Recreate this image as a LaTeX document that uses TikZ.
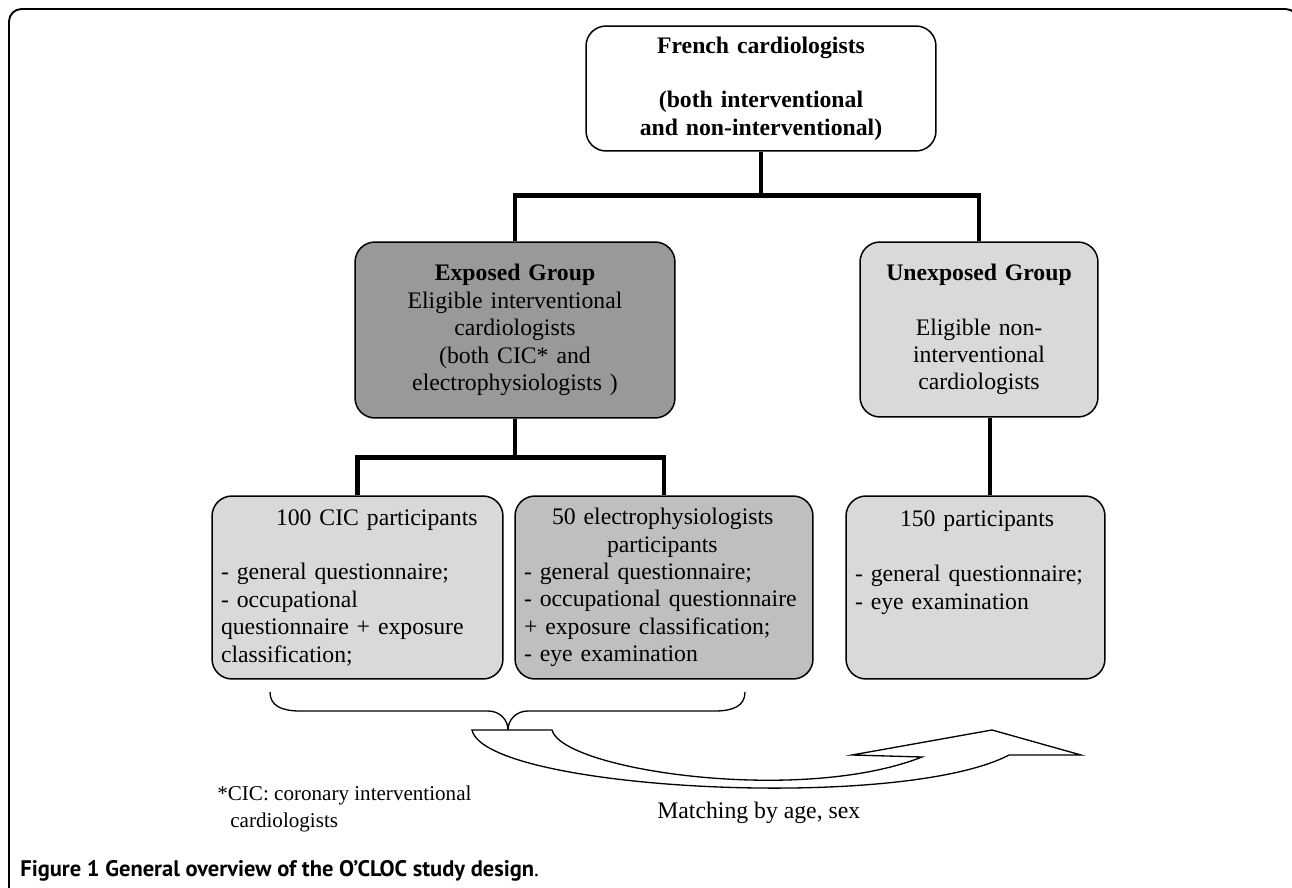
\documentclass[tikz,border=0pt]{standalone}
\usepackage{fontspec}
\setmainfont{Liberation Serif}
\newfontfamily\capfont{PT Sans}
\usetikzlibrary{positioning}

\begin{document}
\begin{tikzpicture}[x=0.02cm, y=-0.02cm,
    grpbox/.style={draw, rounded corners=0.4cm, line width=0.85pt, inner xsep=0.18cm, inner ysep=0pt,
                   font=\fontsize{13.5}{15.6}\selectfont},
    link/.style={line width=2.8pt}]
    \useasboundingbox (0,0) rectangle (1292,888);
    \clip (0,0) rectangle (1292,888);
    \draw[line width=1.1pt, rounded corners=0.25cm] (9,900) |- (1298,9) -- (1298,300);
    \draw (761,88.5) node[grpbox, fill=white, text width=6.64cm, minimum height=2.5cm, align=center] (top)
              {\textbf{French cardiologists}\\[15.6pt] \textbf{(both interventional}\\ \textbf{and non-interventional)}}
          (515,330) node[grpbox, fill=black!40, text width=6.04cm, minimum height=3.52cm, align=center] (exp)
              {\textbf{Exposed Group}\\ Eligible interventional\\ cardiologists\\ (both CIC* and\\ electrophysiologists )}
          (979,329.5) node[grpbox, fill=black!15, text width=4.4cm, minimum height=3.5cm, align=center] (unexp)
              {\textbf{Unexposed Group}\\[15.6pt] Eligible non-\\ interventional\\ cardiologists}
          (357.5,587.5) node[grpbox, fill=black!15, text width=5.46cm, minimum height=3.66cm, align=left] (cic)
              {\hspace*{1.1cm}100 CIC participants\\[15.6pt] - general questionnaire;\\ - occupational\\ questionnaire + exposure\\ classification;}
          (664,587.5) node[grpbox, fill=black!25, text width=5.6cm, minimum height=3.66cm, align=left] (elec)
              {\hspace*{0.56cm}50 electrophysiologists\\ \hspace*{1.66cm}participants\\ - general questionnaire;\\ - occupational questionnaire\\ + exposure classification;\\ - eye examination}
          (975.5,587.5) node[grpbox, fill=black!15, text width=4.82cm, minimum height=3.66cm, align=left] (p150)
              {\hspace*{0.9cm}150 participants\\[15.6pt] - general questionnaire;\\ - eye examination\\ ~\\ ~};
    \draw[link] (top.south) -- ++(0,44) -| (exp.north);
    \draw[link] (top.south) -- ++(0,44) -| (unexp.north);
    \draw[link] (exp.south) -- ++(0,39) -| (cic.north);
    \draw[link] (exp.south) -- ++(0,39) -| (elec.north);
    \draw[link] ([xshift=0.22cm]unexp.south) -- ([xshift=0.22cm]unexp.south |- p150.north);
    \draw[line width=0.75pt] (270,692) .. controls (270,706) and (282,711) .. (300,711) -- (488,711)
          .. controls (500,711) and (508,720) .. (508,730) .. controls (508,720) and (516,711) .. (528,711)
          -- (715,711) .. controls (733,711) and (745,706) .. (745,692);
    \draw[line width=0.75pt, fill=white] (472,730) -- (552,730) .. controls (562,770) and (800,805) .. (922,757)
          -- (852,755) -- (992,730) -- (1081,755) -- (1009,755) .. controls (900,812) and (485,790) .. (472,730) -- cycle;
    \node[anchor=north west, inner sep=0pt, align=left, font=\fontsize{12}{15.3}\selectfont] (note) at (217,786)
          {*CIC: coronary interventional\\ \hspace*{0.26cm}cardiologists};
    \node[anchor=base west, inner sep=0pt, font=\fontsize{13.5}{15.6}\selectfont] (match) at (657,818) {Matching by age, sex};
    \node[anchor=base west, inner sep=0pt, font=\capfont\fontsize{12.8}{14}\selectfont] (cap) at (20,876)
          {\textbf{Figure 1 General overview of the O’CLOC study design}.};
\end{tikzpicture}
\end{document}
